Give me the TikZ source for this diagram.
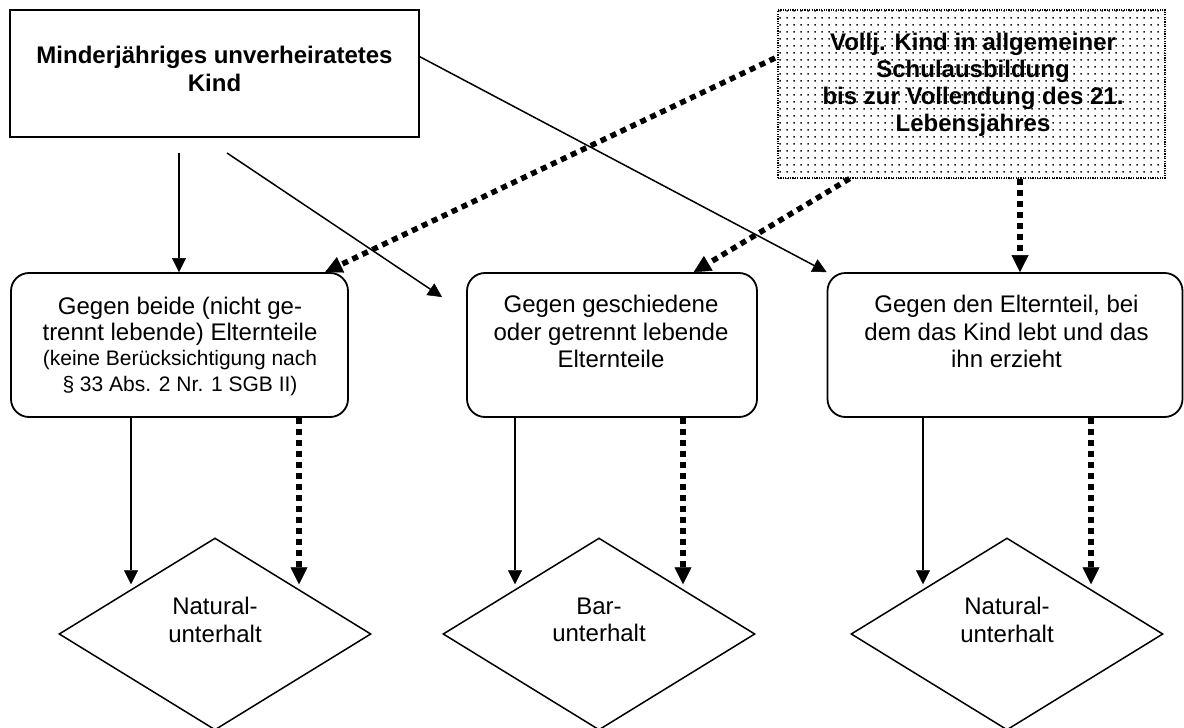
\documentclass[tikz,border=0pt]{standalone}
\usepackage{fontspec}
\setmainfont{Liberation Sans}
\usetikzlibrary{arrows.meta,shapes.geometric,patterns.meta,calc}

\tikzdeclarepattern{
  name=boxdots,
  type=uncolored,
  bottom left={(0pt,0pt)},
  top right={(7pt,7pt)},
  tile size={(7pt,7pt)},
  code={\pgfpathrectangle{\pgfqpoint{2.7pt}{2.7pt}}{\pgfqpoint{1.6pt}{1.6pt}}\pgfusepath{fill}}
}

\begin{document}
\begin{tikzpicture}[x=1pt,y=-1pt,
  txt/.style={font=\fontsize{24}{27.5}\selectfont, align=center, inner sep=0pt},
  btxt/.style={txt, font=\fontsize{24}{28}\selectfont\bfseries},
  sqbox/.style={draw, line width=1.8pt, inner sep=0pt},
  rbox/.style={draw, line width=1.8pt, rounded corners=18pt, minimum height=144pt, inner sep=0pt},
  dia/.style={draw, diamond, line width=1.5pt, minimum width=312pt, minimum height=192pt, inner sep=0pt},
  solidarrow/.style={line width=1.5pt, -{Triangle[length=14pt,width=14pt,line width=0.5pt]}},
  dotarrow/.style={line width=5.5pt, dash pattern=on 6pt off 5pt, -{Triangle[length=17pt,width=17pt,line width=0.5pt]}},
]
\useasboundingbox (0,0) rectangle (1184,728);

% top boxes
\node[sqbox, minimum width=409pt, minimum height=127pt] (A) at (214.5,73.5) {};
\node[btxt] (At) at (214.5,69) {Minderjähriges unverheiratetes\\Kind};

\node[draw, line width=1.2pt, dash pattern=on 1.2pt off 1.2pt, pattern=boxdots, pattern color=black!90,
      minimum width=387pt, minimum height=168pt, inner sep=0pt] (B) at (971.5,94) {};
\node[btxt, anchor=north, font=\fontsize{24}{27}\selectfont\bfseries] (Bt) at (973,33) {Vollj. Kind in allgemeiner\\Schulausbildung\\bis zur Vollendung des 21.\\Lebensjahres};

% middle boxes
\node[rbox, minimum width=337pt] (C) at (179.5,345) {};
\node[txt, anchor=north, font=\fontsize{24}{25.5}\selectfont] (Ct) at (180,297) {Gegen beide (nicht ge-\\trennt lebende) Elternteile\\{\fontsize{21}{25}\selectfont(keine Berücksichtigung nach}\\{\fontsize{21}{25}\selectfont§ 33 Abs. 2 Nr. 1 SGB II)}};

\node[rbox, minimum width=290pt] (D) at (612,345) {};
\node[txt, anchor=north] (Dt) at (611,295) {Gegen geschiedene\\oder getrennt lebende\\Elternteile};

\node[rbox, minimum width=355pt] (E) at (1005,345) {};
\node[txt, anchor=north] (Et) at (1006.5,295) {Gegen den Elternteil, bei\\dem das Kind lebt und das\\ihn erzieht};

% diamonds
\node[dia] (N1) at (215,634) {};
\node[txt] (N1t) at (215,620) {Natural-\\unterhalt};
\node[dia] (N2) at (599,634) {};
\node[txt] (N2t) at (599,620) {Bar-\\unterhalt};
\node[dia] (N3) at (1007,634) {};
\node[txt] (N3t) at (1007,620) {Natural-\\unterhalt};

% coordinates
\coordinate (a1) at (179,153);
\coordinate (a2) at (227,153);
\coordinate (t2) at (442,297);
\coordinate (b1) at (775,58);
\coordinate (n1l) at ($(N1.north)+(-84,47)$);
\coordinate (n1r) at ($(N1.north)+(84,47)$);
\coordinate (n2l) at ($(N2.north)+(-84,47)$);
\coordinate (n2r) at ($(N2.north)+(84,47)$);
\coordinate (n3l) at ($(N3.north)+(-84,47)$);
\coordinate (n3r) at ($(N3.north)+(84,47)$);

% solid connectors from A
\draw[solidarrow] (a1) -- (a1 |- C.north);
\draw[solidarrow] (a2) -- (t2);
\draw[solidarrow] ($(A.north east)!0.37!(A.south east)$) -- (E.north west);

% dotted connectors from B
\draw[dotarrow] (b1) -- ($(C.north west)!0.93!(C.north east)$);
\draw[dotarrow] ($(B.south west)!0.186!(B.south east)$) -- ($(D.north west)!0.78!(D.north east)$);
\draw[dotarrow] ($(B.south west)!0.625!(B.south east)$) coordinate (b3) -- (b3 |- E.north);

% lower connectors
\draw[solidarrow] (C.south -| n1l) -- (n1l);
\draw[dotarrow] (C.south -| n1r) -- (n1r);
\draw[solidarrow] (D.south -| n2l) -- (n2l);
\draw[dotarrow] (D.south -| n2r) -- (n2r);
\draw[solidarrow] (E.south -| n3l) -- (n3l);
\draw[dotarrow] (E.south -| n3r) -- (n3r);
\end{tikzpicture}
\end{document}
